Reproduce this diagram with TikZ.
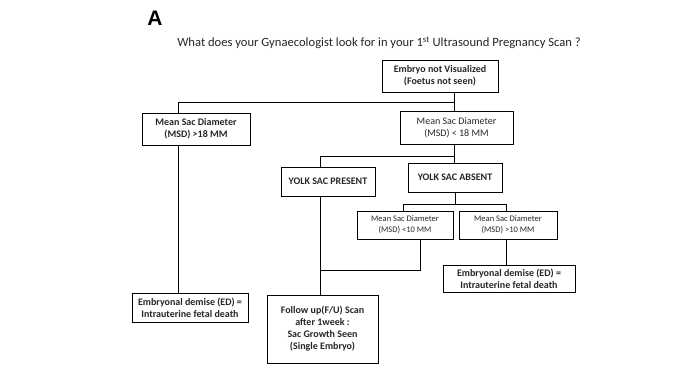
\documentclass[tikz,border=0pt]{standalone}
\usepackage{fontspec}
\setmainfont{Carlito}
\newfontfamily\panelfont{Liberation Sans}
\usetikzlibrary{positioning,calc}
\definecolor{ink}{HTML}{262626}
\tikzset{
  block/.style  = {draw, line width=0.9pt, rectangle, align=center, inner sep=1pt,
                   text=ink, font=\fontsize{10}{12}\selectfont},
  bblock/.style = {block, font=\fontsize{10}{12}\selectfont\bfseries},
  sblock/.style = {block, font=\fontsize{8.5}{11}\selectfont},
  link/.style   = {line width=0.7pt},
}

\begin{document}
\begin{tikzpicture}[x=1pt,y=-1pt]
\useasboundingbox (0,0) rectangle (687,386);
% heading
\node[font=\panelfont\fontsize{21}{21}\selectfont\bfseries] (panel) at (155,18) {A};
\node[text=ink, font=\fontsize{12.6}{14}\selectfont] (title) at (379,43)
  {What does your Gynaecologist look for in your 1\textsuperscript{st} Ultrasound Pregnancy Scan ?};
% boxes
\node[bblock, minimum width=116pt, minimum height=32pt] (emb) at (440,76)
  {Embryo not Visualized\\(Foetus not seen)};
\node[bblock, minimum width=108pt, minimum height=32pt] (msdL) at (196,129)
  {Mean Sac Diameter\\(MSD) >18 MM};
\node[block, minimum width=113pt, minimum height=33pt] (msdR) at (456.5,127.5)
  {Mean Sac Diameter\\(MSD) < 18 MM};
\node[bblock, minimum width=94pt, minimum height=29pt] (ysp) at (328,181.5)
  {YOLK SAC PRESENT};
\node[bblock, minimum width=94pt, minimum height=29pt] (ysa) at (455,177.5)
  {YOLK SAC ABSENT};
\node[sblock, minimum width=96pt, minimum height=28pt] (small) at (405,225)
  {Mean Sac Diameter\\(MSD) <10 MM};
\node[sblock, minimum width=98pt, minimum height=28pt] (large) at (508,225)
  {Mean Sac Diameter\\(MSD) >10 MM};
\node[bblock, minimum width=132pt, minimum height=27pt] (edR) at (509,278.5)
  {Embryonal demise (ED) =\\Intrauterine fetal death};
\node[bblock, minimum width=116pt, minimum height=29pt] (edL) at (190,307.5)
  {Embryonal demise (ED) =\\Intrauterine fetal death};
\node[bblock, minimum width=111pt, minimum height=68pt] (fu) at (322.5,329)
  {Follow up(F/U) Scan\\after 1week :\\Sac Growth Seen\\(Single Embryo)};
% junctions
\coordinate (j1) at (454,102);
\coordinate (j1l) at (178,102);
\coordinate (j2) at (454,156);
\coordinate (j2l) at (320,156);
\coordinate (j3) at (455,204);
\coordinate (j3l) at (403,204);
\coordinate (j3r) at (506,204);
\coordinate (j4) at (420,270);
% connectors
\draw[link] (emb.south -| j1) -- (msdR.north -| j1);
\draw[link] (j1) -- (j1l) -- (msdL.north -| j1l);
\draw[link] (msdL.south -| j1l) -- (edL.north -| j1l);
\draw[link] (msdR.south -| j2) -- (ysa.north -| j2);
\draw[link] (j2) -- (j2l) -- (ysp.north -| j2l);
\draw[link] (ysp.south -| j2l) -- (fu.north -| j2l);
\draw[link] (ysa.south -| j3) -- (j3);
\draw[link] (j3l) -- (j3r);
\draw[link] (j3l) -- (small.north -| j3l);
\draw[link] (j3r) -- (large.north -| j3r);
\draw[link] (small.south -| j4) -- (j4) -- (j4 -| j2l);
\draw[link] (large.south -| j3r) -- (edR.north -| j3r);
\end{tikzpicture}
\end{document}
